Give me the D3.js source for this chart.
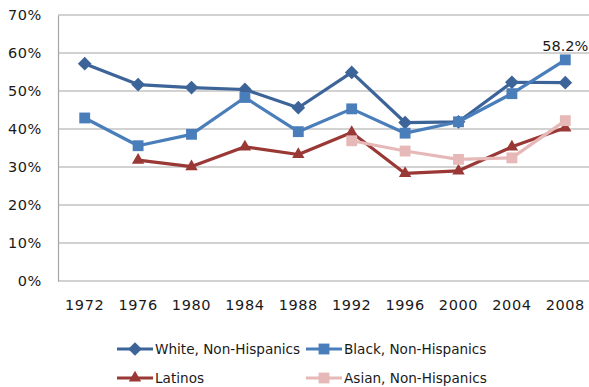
<!DOCTYPE html>
<html>
<head>
<meta charset="utf-8">
<script src="https://cdn.jsdelivr.net/npm/d3@7"></script>
<style>
  html, body { margin: 0; padding: 0; background: #fff; }
  svg { display: block; font-family: "DejaVu Sans", sans-serif; }
</style>
</head>
<body>
<svg id="chart" width="589" height="387"></svg>
<script>
// Election years on the x axis
const years = ["1972", "1976", "1980", "1984", "1988", "1992", "1996", "2000", "2004", "2008"];

// Turnout shares (%) per group; null where no figure exists
const white  = [57.2, 51.7, 50.9, 50.4, 45.6, 54.9, 41.7, 41.9, 52.3, 52.2];
const black  = [42.9, 35.6, 38.6, 48.3, 39.3, 45.3, 38.9, 41.9, 49.3, 58.2];
const latino = [null, 31.8, 30.1, 35.3, 33.3, 39.1, 28.3, 29.0, 35.3, 40.3];
const asian  = [null, null, null, null, null, 36.9, 34.2, 32.0, 32.4, 42.2];

const yTicks = [0, 10, 20, 30, 40, 50, 60, 70];

const seriesNames = ["White, Non-Hispanics", "Black, Non-Hispanics", "Latinos", "Asian, Non-Hispanics"];

const series = [
  { name: seriesNames[0], values: white,  color: "#3C6499", symbol: d3.symbolDiamond2, size: 120 },
  { name: seriesNames[1], values: black,  color: "#4A7EBB", symbol: d3.symbolSquare2,  size: 150 },
  { name: seriesNames[2], values: latino, color: "#9A3836", symbol: d3.symbolTriangle2, size: 110 },
  { name: seriesNames[3], values: asian,  color: "#E6B9B8", symbol: d3.symbolSquare2,  size: 150 }
];

const svg = d3.select("#chart");
const plot = { left: 58, right: 592, top: 15, bottom: 281 };

const x = d3.scaleBand().domain(years).range([plot.left, plot.right]);
const y = d3.scaleLinear().domain([0, 70]).range([plot.bottom, plot.top]);

// Horizontal gridlines
svg.append("g")
  .selectAll("line")
  .data(yTicks)
  .join("line")
  .attr("x1", plot.left).attr("x2", plot.right)
  .attr("y1", d => y(d)).attr("y2", d => y(d))
  .attr("stroke", "#A6A6A6").attr("stroke-width", 1.2);

// Y axis
const yAxis = svg.append("g")
  .attr("transform", `translate(${plot.left},0)`)
  .call(d3.axisLeft(y).tickValues(yTicks).tickFormat(d => d + "%").tickSize(0).tickPadding(16));
yAxis.select(".domain").attr("stroke", "#A6A6A6").attr("stroke-width", 1.2);
yAxis.selectAll("text").attr("font-size", 14.5).attr("fill", "#1a1a1a")
  .attr("letter-spacing", 0.6)
  .attr("font-family", "DejaVu Sans, sans-serif");

// X axis
const xAxis = svg.append("g")
  .attr("transform", `translate(0,${plot.bottom})`)
  .call(d3.axisBottom(x).tickSize(0).tickPadding(19));
xAxis.select(".domain").remove();
xAxis.selectAll("text").attr("font-size", 14.5).attr("fill", "#1a1a1a")
  .attr("letter-spacing", 0.6)
  .attr("font-family", "DejaVu Sans, sans-serif");

const cx = (d, i) => x(years[i]) + x.bandwidth() / 2;

const line = d3.line()
  .defined(d => d != null)
  .x((d, i) => cx(d, i))
  .y(d => y(d));

// Lines
series.forEach(s => {
  svg.append("path")
    .datum(s.values)
    .attr("fill", "none")
    .attr("stroke", s.color)
    .attr("stroke-width", 3.2)
    .attr("stroke-linejoin", "round")
    .attr("d", line);
});

// Markers
series.forEach(s => {
  svg.append("g")
    .selectAll("path")
    .data(s.values.map((v, i) => ({ v, i })).filter(d => d.v != null))
    .join("path")
    .attr("transform", d => `translate(${cx(d.v, d.i)},${y(d.v)})`)
    .attr("d", d3.symbol().type(s.symbol).size(s.size))
    .attr("fill", s.color);
});

// Value label on the last Black, Non-Hispanics point
const lastIdx = black.length - 1;
svg.append("text")
  .attr("x", cx(black[lastIdx], lastIdx))
  .attr("y", y(black[lastIdx]) - 9)
  .attr("text-anchor", "middle")
  .attr("font-size", 14.5)
  .attr("fill", "#1a1a1a")
  .text(black[lastIdx].toFixed(1) + "%");

// Legend
const legendPos = [
  { lx: 117, ly: 349 },
  { lx: 306, ly: 349 },
  { lx: 117, ly: 378 },
  { lx: 306, ly: 378 }
];
series.forEach((s, k) => {
  const p = legendPos[k];
  const g = svg.append("g").attr("transform", `translate(${p.lx},${p.ly})`);
  g.append("line").attr("x1", 0).attr("x2", 36).attr("y1", 0).attr("y2", 0)
    .attr("stroke", s.color).attr("stroke-width", 3.2);
  g.append("path").attr("transform", "translate(18,0)")
    .attr("d", d3.symbol().type(s.symbol).size(s.size))
    .attr("fill", s.color);
  g.append("text").attr("x", 38).attr("y", 5)
    .attr("font-size", 13.6).attr("fill", "#1a1a1a")
    .text(s.name);
});
</script>
</body>
</html>
